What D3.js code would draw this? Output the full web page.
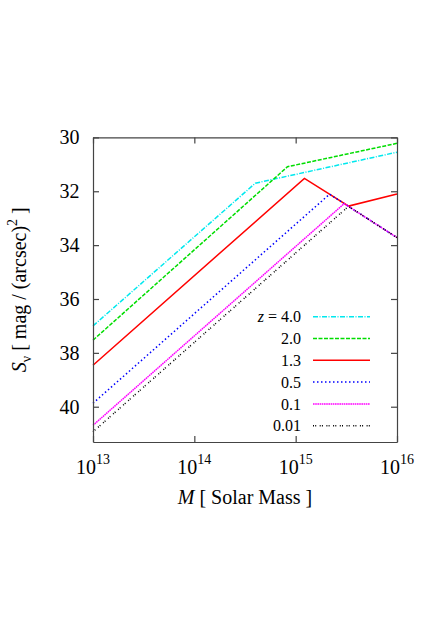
<!DOCTYPE html>
<html>
<head>
<meta charset="utf-8">
<script src="https://cdn.jsdelivr.net/npm/d3@7"></script>
<style>
  body { margin: 0; background: #fff; }
</style>
</head>
<body>
<div id="chart"></div>
<script>
// surface brightness vs cluster mass, one broken line per redshift
var redshifts = ["4.0", "2.0", "1.3", "0.5", "0.1", "0.01"];

var massZ40 = [1e13, 4.0e14, 1e16];
var sbZ40   = [37.00, 31.70, 30.55];
var massZ20 = [1e13, 8.3e14, 1e16];
var sbZ20   = [37.53, 31.09, 30.22];
var massZ13 = [1e13, 1.22e15, 3.33e15, 1e16];
var sbZ13   = [38.46, 31.52, 32.55, 32.10];
var massZ05 = [1e13, 2.16e15, 1e16];
var sbZ05   = [39.87, 32.11, 33.72];
var massZ01 = [1e13, 3.01e15, 1e16];
var sbZ01   = [40.69, 32.46, 33.72];
var massZ001 = [1e13, 3.32e15, 1e16];
var sbZ001   = [40.93, 32.56, 33.72];

var xTicks = [1e13, 1e14, 1e15, 1e16];
var xTickExp = ["13", "14", "15", "16"];
var yTicks = [30, 32, 34, 36, 38, 40];

var masses = [massZ40, massZ20, massZ13, massZ05, massZ01, massZ001];
var sbs = [sbZ40, sbZ20, sbZ13, sbZ05, sbZ01, sbZ001];

var colors = ["#00e8ee", "#00dd00", "#ff0000", "#0000ff", "#ff00ff", "#000000"];
var dashes = ["5,1.5,1,1.5", "4,1.5", null, "1.5,2.5", "1.6,0.6", "1,1.2,1,3.5"];

var serif = "Liberation Serif";

function plot() {
	var width = 436, height = 623;
	var left = 93, right = 397, top = 137.4, bottom = 442;

	var svg = d3.select("#chart").append("svg")
	.attr("width", width)
	.attr("height", height)
	.attr("font-family", serif);

	var x = d3.scaleLog().domain([1e13, 1e16]).range([left, right]);
	var y = d3.scaleLinear().domain([30, 41.31]).range([top, bottom]);

	var line = d3.line()
	.x(function(d) { return x(d[0]); })
	.y(function(d) { return y(d[1]); });

	var series = masses.map(function(m, i) {
		return m.map(function(v, j) { return [v, sbs[i][j]]; });
	});

	svg.selectAll(".curve")
	.data(series)
	.enter().append("path")
	.attr("class", "curve")
	.attr("d", line)
	.attr("fill", "none")
	.attr("stroke", function(d, i) { return colors[i]; })
	.attr("stroke-width", 1.5)
	.attr("stroke-dasharray", function(d, i) { return dashes[i]; });

	// axes, ticks inward on all four sides
	var frameColor = "#444";
	var gx = svg.append("g").attr("transform", "translate(0," + bottom + ")")
	.call(d3.axisBottom(x).tickValues(xTicks).tickSize(-6).tickSizeOuter(0).tickFormat(""));
	var gxt = svg.append("g").attr("transform", "translate(0," + top + ")")
	.call(d3.axisTop(x).tickValues(xTicks).tickSize(-6).tickSizeOuter(0).tickFormat(""));
	var gy = svg.append("g").attr("transform", "translate(" + left + ",0)")
	.call(d3.axisLeft(y).tickValues(yTicks).tickSize(-6).tickSizeOuter(0).tickPadding(13.5));
	var gyr = svg.append("g").attr("transform", "translate(" + right + ",0)")
	.call(d3.axisRight(y).tickValues(yTicks).tickSize(-6).tickSizeOuter(0).tickFormat(""));

	[gx, gxt, gy, gyr].forEach(function(g) {
		g.select(".domain").attr("stroke", frameColor).attr("stroke-width", 1.2);
		g.selectAll(".tick line").attr("stroke", frameColor).attr("stroke-width", 1.2);
	});
	gy.attr("font-family", serif).attr("font-size", 20);
	gy.selectAll(".tick text")
	.attr("font-family", serif)
	.attr("font-size", 20)
	.attr("fill", "#000");

	// log tick labels 10^n
	var xl = svg.append("g");
	xTicks.forEach(function(t, i) {
		var txt = xl.append("text")
		.attr("x", x(t))
		.attr("y", 474)
		.attr("text-anchor", "middle")
		.attr("font-family", serif)
		.attr("font-size", 20);
		txt.append("tspan").text("10");
		txt.append("tspan").attr("font-size", 14).attr("dy", -10).text(xTickExp[i]);
	});

	// axis titles
	var xt = svg.append("text")
	.attr("x", (left + right) / 2)
	.attr("y", 504)
	.attr("text-anchor", "middle")
	.attr("font-family", serif)
	.attr("font-size", 20);
	xt.append("tspan").attr("font-style", "italic").text("M");
	xt.append("tspan").text(" [ Solar Mass ]");

	var yt = svg.append("text")
	.attr("transform", "translate(26," + (top + bottom) / 2 + ") rotate(-90)")
	.attr("text-anchor", "middle")
	.attr("font-family", serif)
	.attr("font-size", 20);
	yt.append("tspan").attr("font-style", "italic").text("S");
	yt.append("tspan").attr("font-size", 14).attr("dy", 5).text("\u03bd");
	yt.append("tspan").attr("dy", -5).text(" [ mag / (arcsec)");
	yt.append("tspan").attr("font-size", 14).attr("dy", -9).text("2");
	yt.append("tspan").attr("dy", 9).text(" ]");

	// legend
	var legend = svg.append("g");
	redshifts.forEach(function(z, i) {
		var ly = 316.7 + i * 21.8;
		var t = legend.append("text")
		.attr("x", 301)
		.attr("y", ly)
		.attr("dy", "0.35em")
		.attr("text-anchor", "end")
		.attr("font-family", serif)
		.attr("font-size", 16);
		if (i === 0) {
			t.append("tspan").attr("font-style", "italic").text("z");
			t.append("tspan").text(" = " + z);
		} else {
			t.text(z);
		}
		legend.append("line")
		.attr("x1", 313).attr("x2", 370)
		.attr("y1", ly).attr("y2", ly)
		.attr("stroke", colors[i])
		.attr("stroke-width", 1.5)
		.attr("stroke-dasharray", dashes[i]);
	});
}

document.addEventListener("DOMContentLoaded", function() {
	plot();
});
</script>
</body>
</html>
